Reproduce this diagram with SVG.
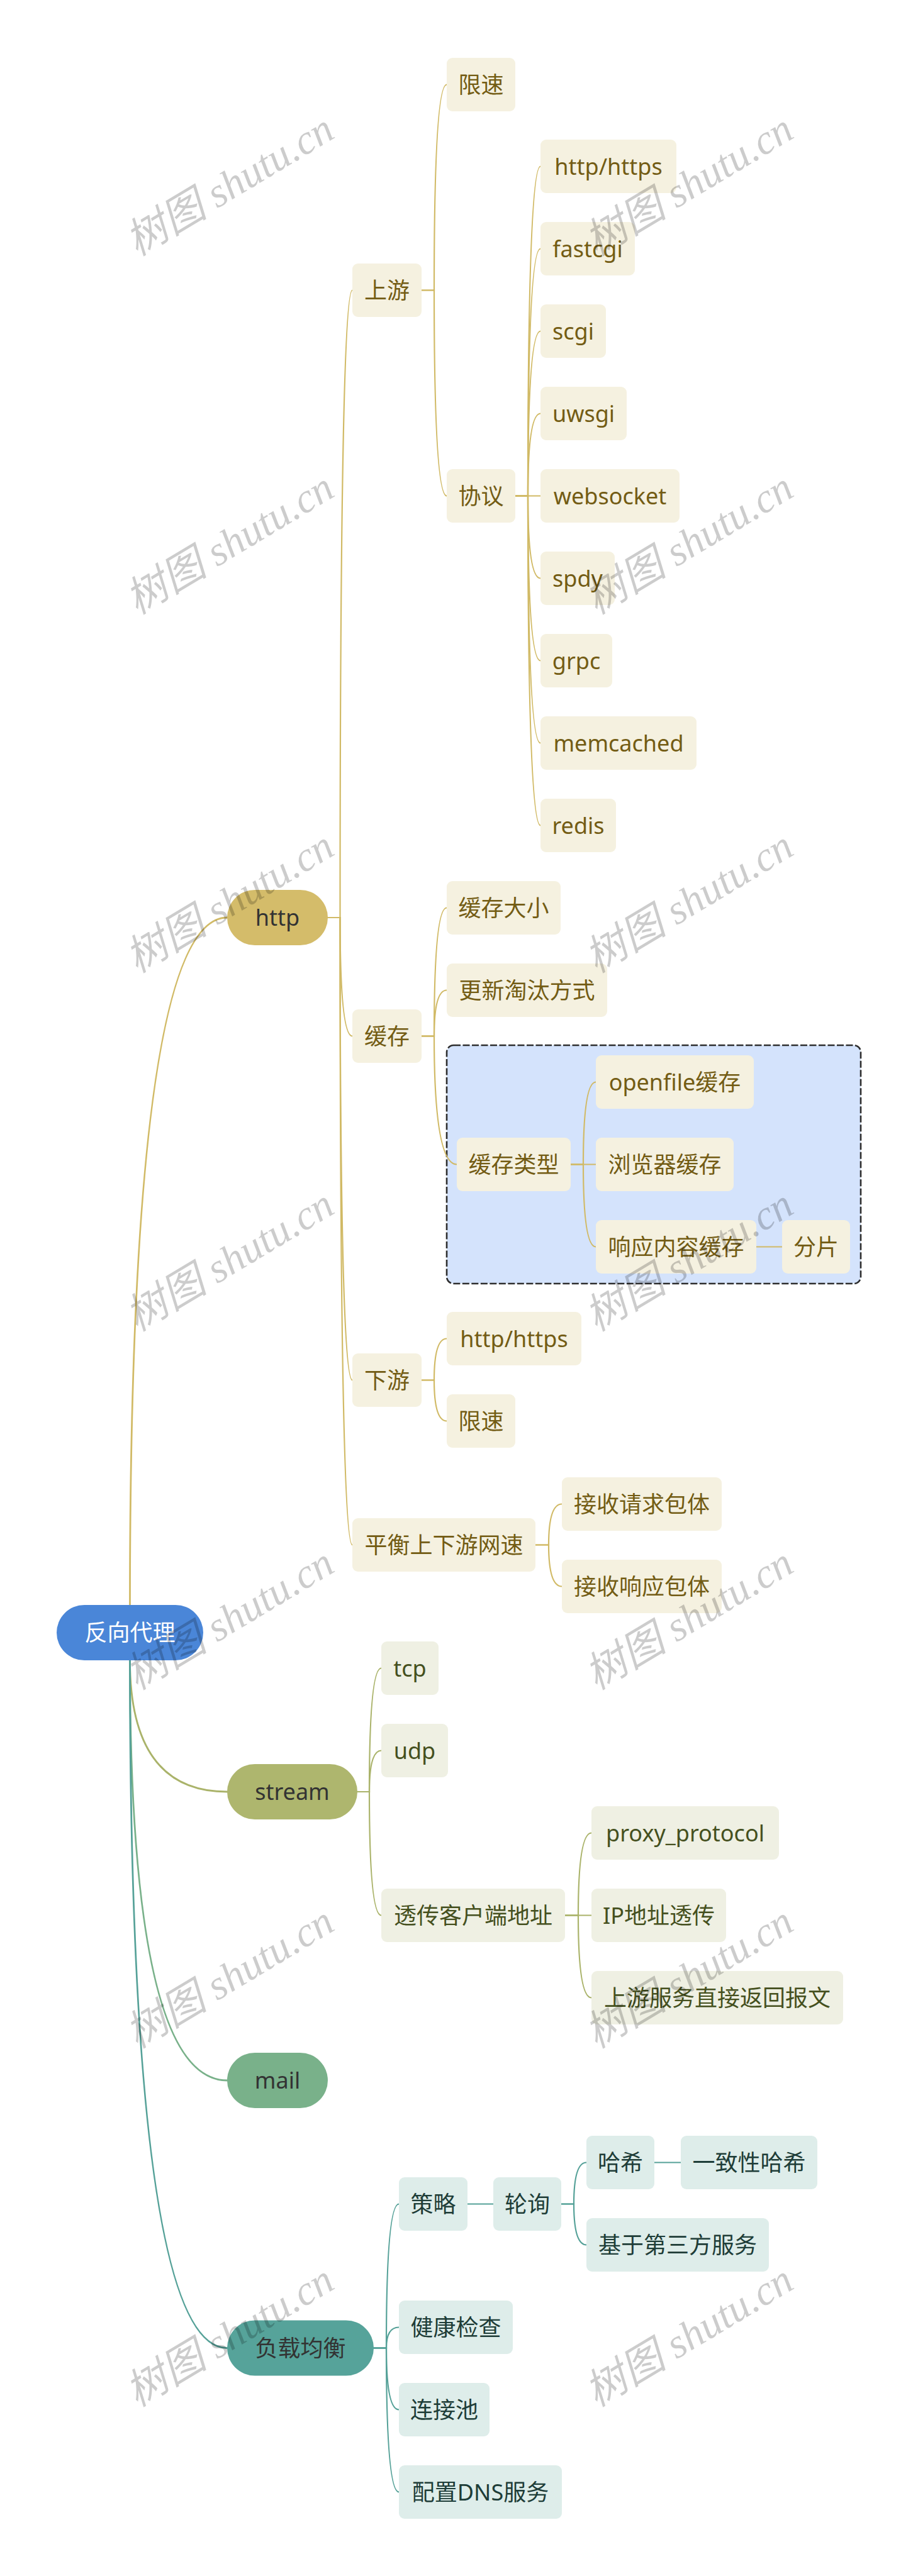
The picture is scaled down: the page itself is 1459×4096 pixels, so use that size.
<svg xmlns="http://www.w3.org/2000/svg" width="1459" height="4096" viewBox="0 0 1459 4096">
<style>
text{font-family:"Noto Sans","Noto Sans CJK SC",sans-serif;font-size:36px;text-anchor:middle}
.root rect{fill:#4a86d8}.root text{fill:#ffffff}
.main text{fill:#333333}
.nh rect{fill:#f5f1e0}.nh text{fill:#735c14}
.ns rect{fill:#eff0e3}.ns text{fill:#45501e}
.nl rect{fill:#deedea}.nl text{fill:#1e3d38}
.c path{fill:none;stroke-width:2.2;stroke-linecap:round}
.c .r{stroke-width:2.8}
.ch{stroke:#d1ba66}.cs{stroke:#aab36a}.cm{stroke:#79b18a}.cl{stroke:#55a198}
.wm text{font-family:"Liberation Serif","Noto Sans CJK SC",serif;font-style:italic;font-size:66px;fill:#000;fill-opacity:0.2}
</style>
<rect x="0" y="0" width="1459" height="4096" fill="#ffffff"/>
<g id="box-cache-type">
<rect x="710" y="1662" width="658" height="379" rx="11" fill="#d4e3fc" stroke="#2e2e2e" stroke-width="2.6" stroke-dasharray="11 3.5"/>
</g>
<g class="c" id="connectors">
<path class="r ch" d="M206.5,2552 Q206.5,1459 361,1459"/>
<path class="r cs" d="M206.5,2640 Q206.5,2849 361,2849"/>
<path class="r cm" d="M206.5,2640 Q206.5,3308 361,3308"/>
<path class="r cl" d="M206.5,2640 Q206.5,3733.5 361,3733.5"/>
<path class="ch" d="M521,1459 H540.5 Q540.5,461.5 560,461.5"/>
<path class="ch" d="M521,1459 H540.5 Q540.5,1647.5 560,1647.5"/>
<path class="ch" d="M521,1459 H540.5 Q540.5,2194.5 560,2194.5"/>
<path class="ch" d="M521,1459 H540.5 Q540.5,2456.5 560,2456.5"/>
<path class="ch" d="M670,461.5 H690 Q690,134.5 710,134.5"/>
<path class="ch" d="M670,461.5 H690 Q690,788.5 710,788.5"/>
<path class="ch" d="M819,788.5 H839 Q839,264.5 859,264.5"/>
<path class="ch" d="M819,788.5 H839 Q839,395.5 859,395.5"/>
<path class="ch" d="M819,788.5 H839 Q839,526.5 859,526.5"/>
<path class="ch" d="M819,788.5 H839 Q839,657.5 859,657.5"/>
<path class="ch" d="M819,788.5 H859"/>
<path class="ch" d="M819,788.5 H839 Q839,919.5 859,919.5"/>
<path class="ch" d="M819,788.5 H839 Q839,1050.5 859,1050.5"/>
<path class="ch" d="M819,788.5 H839 Q839,1181.5 859,1181.5"/>
<path class="ch" d="M819,788.5 H839 Q839,1312.5 859,1312.5"/>
<path class="ch" d="M670,1647.5 H690 Q690,1443.5 710,1443.5"/>
<path class="ch" d="M670,1647.5 H690 Q690,1574.5 710,1574.5"/>
<path class="ch" d="M670,1647.5 H690 Q690,1851.5 726,1851.5"/>
<path class="ch" d="M907,1851.5 H927 Q927,1720.5 947,1720.5"/>
<path class="ch" d="M907,1851.5 H947"/>
<path class="ch" d="M907,1851.5 H927 Q927,1982.5 947,1982.5"/>
<path class="ch" d="M1202,1982.5 H1243"/>
<path class="ch" d="M670,2194.5 H690 Q690,2128.5 710,2128.5"/>
<path class="ch" d="M670,2194.5 H690 Q690,2259.5 710,2259.5"/>
<path class="ch" d="M851,2456.5 H872 Q872,2391.5 893,2391.5"/>
<path class="ch" d="M851,2456.5 H872 Q872,2522.5 893,2522.5"/>
<path class="cs" d="M568,2849 H587 Q587,2652.5 606,2652.5"/>
<path class="cs" d="M568,2849 H587 Q587,2783.5 606,2783.5"/>
<path class="cs" d="M568,2849 H587 Q587,3045.5 606,3045.5"/>
<path class="cs" d="M898,3045.5 H919 Q919,2914.5 940,2914.5"/>
<path class="cs" d="M898,3045.5 H940"/>
<path class="cs" d="M898,3045.5 H919 Q919,3176.5 940,3176.5"/>
<path class="cl" d="M594,3733.5 H614 Q614,3504.5 634,3504.5"/>
<path class="cl" d="M594,3733.5 H614 Q614,3700.5 634,3700.5"/>
<path class="cl" d="M594,3733.5 H614 Q614,3831.5 634,3831.5"/>
<path class="cl" d="M594,3733.5 H614 Q614,3962.5 634,3962.5"/>
<path class="cl" d="M743,3504.5 H784"/>
<path class="cl" d="M892,3504.5 H912 Q912,3438.5 932,3438.5"/>
<path class="cl" d="M892,3504.5 H912 Q912,3569.5 932,3569.5"/>
<path class="cl" d="M1040,3438.5 H1082"/>
</g>
<g id="n-root" class="root"><rect x="90" y="2552" width="233" height="88" rx="44"/><text x="206.5" y="2609">反向代理</text></g>
<g id="n-http" class="main"><rect x="361" y="1415" width="160" height="88" rx="44" fill="#d4bc6a"/><text x="441" y="1472">http</text></g>
<g id="n-stream" class="main"><rect x="361" y="2805" width="207" height="88" rx="44" fill="#aeb66e"/><text x="464.5" y="2862">stream</text></g>
<g id="n-mail" class="main"><rect x="361" y="3264" width="160" height="88" rx="44" fill="#79b18a"/><text x="441" y="3321">mail</text></g>
<g id="n-lb" class="main"><rect x="361" y="3689.5" width="233" height="88" rx="44" fill="#56a39a"/><text x="477.5" y="3746.5">负载均衡</text></g>
<g id="n-upstream" class="nh"><rect x="560" y="419" width="110" height="85" rx="9"/><text x="615" y="474.5">上游</text></g>
<g id="n-limit1" class="nh"><rect x="710" y="92" width="109" height="85" rx="9"/><text x="764.5" y="147.5">限速</text></g>
<g id="n-proto" class="nh"><rect x="710" y="746" width="109" height="85" rx="9"/><text x="764.5" y="801.5">协议</text></g>
<g id="n-p-http" class="nh"><rect x="859" y="222" width="216" height="85" rx="9"/><text x="967" y="277.5">http/https</text></g>
<g id="n-p-fastcgi" class="nh"><rect x="859" y="353" width="150" height="85" rx="9"/><text x="934" y="408.5">fastcgi</text></g>
<g id="n-p-scgi" class="nh"><rect x="859" y="484" width="104" height="85" rx="9"/><text x="911" y="539.5">scgi</text></g>
<g id="n-p-uwsgi" class="nh"><rect x="859" y="615" width="137" height="85" rx="9"/><text x="927.5" y="670.5">uwsgi</text></g>
<g id="n-p-ws" class="nh"><rect x="859" y="746" width="221" height="85" rx="9"/><text x="969.5" y="801.5">websocket</text></g>
<g id="n-p-spdy" class="nh"><rect x="859" y="877" width="118" height="85" rx="9"/><text x="918" y="932.5">spdy</text></g>
<g id="n-p-grpc" class="nh"><rect x="859" y="1008" width="114" height="85" rx="9"/><text x="916" y="1063.5">grpc</text></g>
<g id="n-p-memcached" class="nh"><rect x="859" y="1139" width="248" height="85" rx="9"/><text x="983" y="1194.5">memcached</text></g>
<g id="n-p-redis" class="nh"><rect x="859" y="1270" width="120" height="85" rx="9"/><text x="919" y="1325.5">redis</text></g>
<g id="n-cache" class="nh"><rect x="560" y="1605" width="110" height="85" rx="9"/><text x="615" y="1660.5">缓存</text></g>
<g id="n-cache-size" class="nh"><rect x="710" y="1401" width="181" height="85" rx="9"/><text x="800.5" y="1456.5">缓存大小</text></g>
<g id="n-cache-evict" class="nh"><rect x="710" y="1532" width="255" height="85" rx="9"/><text x="837.5" y="1587.5">更新淘汰方式</text></g>
<g id="n-cache-type" class="nh"><rect x="726" y="1809" width="181" height="85" rx="9"/><text x="816.5" y="1864.5">缓存类型</text></g>
<g id="n-openfile" class="nh"><rect x="947" y="1678" width="251" height="85" rx="9"/><text x="1072.5" y="1733.5">openfile缓存</text></g>
<g id="n-browser" class="nh"><rect x="947" y="1809" width="219" height="85" rx="9"/><text x="1056.5" y="1864.5">浏览器缓存</text></g>
<g id="n-resp" class="nh"><rect x="947" y="1940" width="255" height="85" rx="9"/><text x="1074.5" y="1995.5">响应内容缓存</text></g>
<g id="n-slice" class="nh"><rect x="1243" y="1940" width="108" height="85" rx="9"/><text x="1297" y="1995.5">分片</text></g>
<g id="n-downstream" class="nh"><rect x="560" y="2152" width="110" height="85" rx="9"/><text x="615" y="2207.5">下游</text></g>
<g id="n-d-http" class="nh"><rect x="710" y="2086" width="214" height="85" rx="9"/><text x="817" y="2141.5">http/https</text></g>
<g id="n-limit2" class="nh"><rect x="710" y="2217" width="109" height="85" rx="9"/><text x="764.5" y="2272.5">限速</text></g>
<g id="n-balance" class="nh"><rect x="560" y="2414" width="291" height="85" rx="9"/><text x="705.5" y="2469.5">平衡上下游网速</text></g>
<g id="n-req-body" class="nh"><rect x="893" y="2349" width="254" height="85" rx="9"/><text x="1020" y="2404.5">接收请求包体</text></g>
<g id="n-resp-body" class="nh"><rect x="893" y="2480" width="254" height="85" rx="9"/><text x="1020" y="2535.5">接收响应包体</text></g>
<g id="n-tcp" class="ns"><rect x="606" y="2610" width="91" height="85" rx="9"/><text x="651.5" y="2665.5">tcp</text></g>
<g id="n-udp" class="ns"><rect x="606" y="2741" width="106" height="85" rx="9"/><text x="659" y="2796.5">udp</text></g>
<g id="n-transparent" class="ns"><rect x="606" y="3003" width="292" height="85" rx="9"/><text x="752" y="3058.5">透传客户端地址</text></g>
<g id="n-proxy-protocol" class="ns"><rect x="940" y="2872" width="298" height="85" rx="9"/><text x="1089" y="2927.5">proxy_protocol</text></g>
<g id="n-ip" class="ns"><rect x="940" y="3003" width="214" height="85" rx="9"/><text x="1047" y="3058.5">IP地址透传</text></g>
<g id="n-direct" class="ns"><rect x="940" y="3134" width="400" height="85" rx="9"/><text x="1140" y="3189.5">上游服务直接返回报文</text></g>
<g id="n-strategy" class="nl"><rect x="634" y="3462" width="109" height="85" rx="9"/><text x="688.5" y="3517.5">策略</text></g>
<g id="n-rr" class="nl"><rect x="784" y="3462" width="108" height="85" rx="9"/><text x="838" y="3517.5">轮询</text></g>
<g id="n-hash" class="nl"><rect x="932" y="3396" width="108" height="85" rx="9"/><text x="986" y="3451.5">哈希</text></g>
<g id="n-chash" class="nl"><rect x="1082" y="3396" width="217" height="85" rx="9"/><text x="1190.5" y="3451.5">一致性哈希</text></g>
<g id="n-third" class="nl"><rect x="932" y="3527" width="290" height="85" rx="9"/><text x="1077" y="3582.5">基于第三方服务</text></g>
<g id="n-health" class="nl"><rect x="634" y="3658" width="181" height="85" rx="9"/><text x="724.5" y="3713.5">健康检查</text></g>
<g id="n-pool" class="nl"><rect x="634" y="3789" width="144" height="85" rx="9"/><text x="706" y="3844.5">连接池</text></g>
<g id="n-dns" class="nl"><rect x="634" y="3920" width="259" height="85" rx="9"/><text x="763.5" y="3975.5">配置DNS服务</text></g>
<g class="wm" id="watermarks">
<text x="365" y="316" transform="rotate(-31 365 294)">树图 shutu.cn</text>
<text x="1095" y="316" transform="rotate(-31 1095 294)">树图 shutu.cn</text>
<text x="365" y="886" transform="rotate(-31 365 864)">树图 shutu.cn</text>
<text x="1095" y="886" transform="rotate(-31 1095 864)">树图 shutu.cn</text>
<text x="365" y="1456" transform="rotate(-31 365 1434)">树图 shutu.cn</text>
<text x="1095" y="1456" transform="rotate(-31 1095 1434)">树图 shutu.cn</text>
<text x="365" y="2026" transform="rotate(-31 365 2004)">树图 shutu.cn</text>
<text x="1095" y="2026" transform="rotate(-31 1095 2004)">树图 shutu.cn</text>
<text x="365" y="2596" transform="rotate(-31 365 2574)">树图 shutu.cn</text>
<text x="1095" y="2596" transform="rotate(-31 1095 2574)">树图 shutu.cn</text>
<text x="365" y="3166" transform="rotate(-31 365 3144)">树图 shutu.cn</text>
<text x="1095" y="3166" transform="rotate(-31 1095 3144)">树图 shutu.cn</text>
<text x="365" y="3736" transform="rotate(-31 365 3714)">树图 shutu.cn</text>
<text x="1095" y="3736" transform="rotate(-31 1095 3714)">树图 shutu.cn</text>
</g>
</svg>
